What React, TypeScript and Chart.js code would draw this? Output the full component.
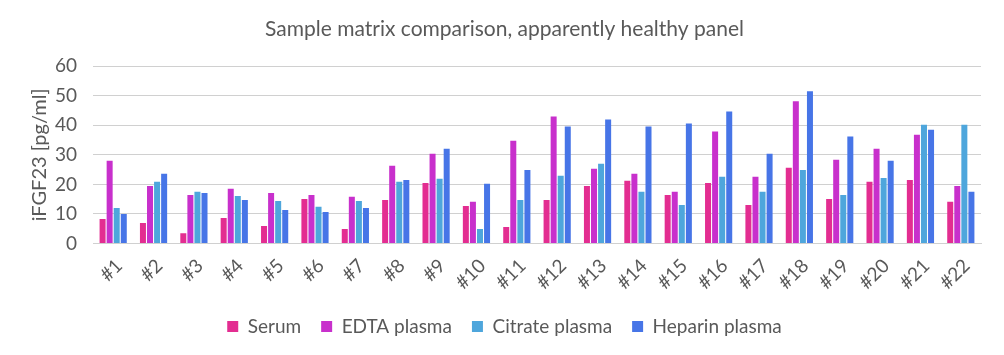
import React, { useEffect, useRef } from "react";
import { Chart, registerables } from "chart.js";

Chart.register(...registerables);

const categories = ["#1","#2","#3","#4","#5","#6","#7","#8","#9","#10","#11","#12","#13","#14","#15","#16","#17","#18","#19","#20","#21","#22"];
const serum = [8.3,6.9,3.5,8.6,5.9,15.1,4.9,14.7,20.5,12.7,5.6,14.7,19.5,21.2,16.4,20.5,13.0,25.6,15.1,20.9,21.5,14.1];
const edta = [28.0,19.5,16.4,18.5,17.1,16.4,15.8,26.3,30.4,14.1,34.8,43.0,25.3,23.6,17.5,37.9,22.6,48.1,28.3,32.1,36.8,19.5];
const citrate = [12.0,20.9,17.5,16.1,14.4,12.4,14.4,20.9,21.9,4.9,14.7,22.9,27.0,17.5,13.0,22.6,17.5,24.9,16.4,22.2,40.2,40.2];
const heparin = [10.0,23.6,17.1,14.7,11.3,10.7,12.0,21.5,32.1,20.2,24.9,39.6,42.0,39.6,40.6,44.7,30.4,51.5,36.2,28.0,38.5,17.5];
const seriesNames = ["Serum","EDTA plasma","Citrate plasma","Heparin plasma"];
const seriesColors = ["#E32D91","#C830CC","#4EA6DC","#4775E7"];
const yTicks = [0,10,20,30,40,50,60];

export default function App() {
  const ref = useRef<HTMLCanvasElement>(null);
  useEffect(() => {
    document.body.style.margin = "0";
    const font = "Lato, 'Open Sans', sans-serif";
    const values = [serum, edta, citrate, heparin];
    const chart = new Chart(ref.current!, {
      type: "bar",
      data: {
        labels: categories,
        datasets: values.map((v, i) => ({
          label: seriesNames[i],
          data: v,
          backgroundColor: seriesColors[i],
          borderWidth: 0,
          categoryPercentage: 0.7,
          barPercentage: 0.85,
        })),
      },
      options: {
        animation: false,
        responsive: false,
        maintainAspectRatio: false,
        layout: { padding: { left: 28, right: 23, top: 6, bottom: 9 } },
        plugins: {
          title: {
            display: true,
            text: "Sample matrix comparison, apparently healthy panel",
            color: "#595959",
            font: { family: font, size: 21, weight: "normal" },
            padding: { top: 11, bottom: 24 },
          },
          legend: {
            position: "bottom",
            labels: {
              color: "#595959",
              font: { family: font, size: 19 },
              boxWidth: 11,
              boxHeight: 11,
              padding: 20,
            },
          },
          tooltip: { enabled: false },
        },
        scales: {
          x: {
            grid: { display: false },
            border: { display: true, color: "#d0d0d0" },
            ticks: {
              color: "#595959",
              font: { family: font, size: 19 },
              maxRotation: 45,
              minRotation: 45,
              autoSkip: false,
              padding: 3,
              labelOffset: 6,
            },
          },
          y: {
            min: 0,
            max: 60,
            afterBuildTicks: (axis: any) => {
              axis.ticks = yTicks.map((v) => ({ value: v }));
            },
            afterFit: (scale: any) => {
              scale.width = 65;
            },
            grid: { color: "#d0d0d0", drawTicks: false },
            border: { display: false },
            ticks: {
              color: "#595959",
              font: { family: font, size: 19 },
              padding: 16,
            },
            title: {
              display: true,
              text: "iFGF23 [pg/ml]",
              color: "#595959",
              font: { family: font, size: 20 },
              padding: { top: 0, bottom: 0 },
            },
          },
        },
      },
    });
    return () => chart.destroy();
  }, []);
  return <canvas ref={ref} width={1004} height={355} style={{ display: "block" }} />;
}
